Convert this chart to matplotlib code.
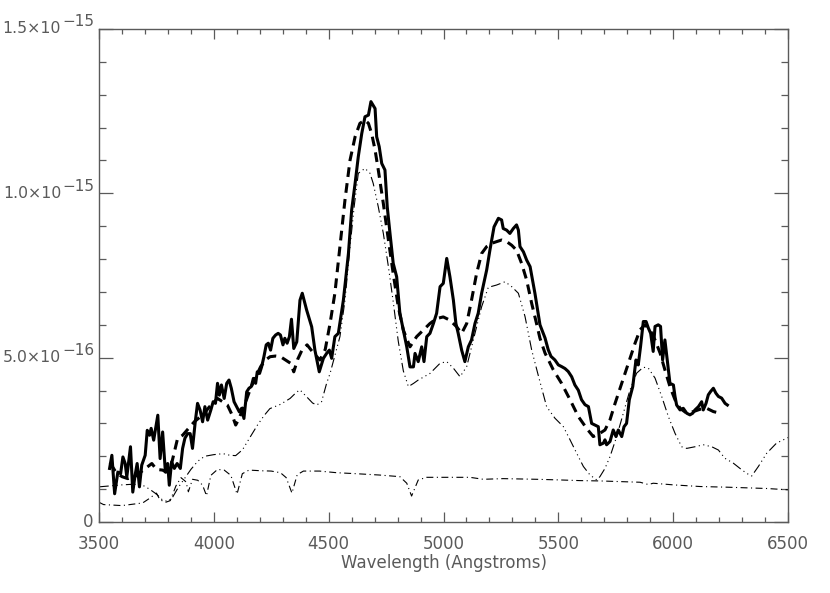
import numpy as np
import matplotlib
matplotlib.use('Agg')
import matplotlib.pyplot as plt
from matplotlib.ticker import MultipleLocator, FixedLocator, NullFormatter
from matplotlib.transforms import offset_copy

# Flusswerte in Einheiten von 1e-16

# beobachtetes Spektrum (durchgezogen)
wl_obs = [3546, 3556, 3568, 3582, 3594, 3604, 3614, 3621, 3637, 3647, 3657, 3666, 3676, 3686,
          3701, 3710, 3720, 3727, 3738, 3756, 3766, 3777, 3789, 3799, 3806, 3816, 3828, 3840,
          3854, 3864, 3874, 3886, 3897, 3907, 3919, 3929, 3940, 3951, 3961, 3973, 3987, 3997,
          4007, 4016, 4024, 4033, 4045, 4056, 4066, 4076, 4088, 4099, 4111, 4121, 4131, 4143,
          4153, 4163, 4172, 4182, 4189, 4199, 4208, 4218, 4228, 4237, 4247, 4257, 4269, 4280,
          4290, 4301, 4309, 4319, 4329, 4338, 4348, 4361, 4375, 4385, 4404, 4426, 4440, 4459,
          4477, 4491, 4503, 4513, 4527, 4542, 4564, 4586, 4600, 4615, 4629, 4644, 4658, 4673,
          4684, 4702, 4709, 4720, 4731, 4745, 4755, 4767, 4781, 4796, 4810, 4825, 4840, 4854,
          4869, 4876, 4890, 4905, 4915, 4927, 4941, 4956, 4970, 4985, 4999, 5014, 5028, 5043,
          5054, 5064, 5079, 5093, 5108, 5122, 5137, 5151, 5166, 5188, 5202, 5220, 5239, 5253,
          5260, 5275, 5289, 5304, 5318, 5326, 5333, 5348, 5362, 5377, 5398, 5420, 5442, 5456,
          5468, 5485, 5500, 5514, 5529, 5543, 5558, 5572, 5587, 5601, 5616, 5631, 5645, 5660,
          5674, 5681, 5696, 5703, 5710, 5725, 5739, 5751, 5761, 5776, 5786, 5797, 5809, 5824,
          5838, 5848, 5858, 5870, 5882, 5892, 5902, 5913, 5921, 5935, 5945, 5954, 5964, 5974,
          5986, 6001, 6008, 6015, 6030, 6044, 6059, 6073, 6085, 6095, 6110, 6124, 6131, 6143,
          6153, 6163, 6175, 6186, 6197, 6211, 6226, 6236]
fl_obs = [1.63, 2.03, 0.86, 1.52, 1.47, 1.98, 1.78, 1.37, 2.29, 0.91, 1.42, 1.78, 1.07, 1.73,
          2.03, 2.79, 2.64, 2.85, 2.49, 3.25, 1.93, 2.74, 1.52, 1.78, 1.12, 1.83, 1.63, 1.78,
          1.63, 2.24, 2.55, 2.69, 2.69, 2.24, 3.05, 3.61, 3.41, 3.05, 3.51, 3.10, 3.41, 3.66,
          3.61, 4.22, 3.86, 4.17, 3.76, 4.22, 4.32, 4.07, 3.66, 3.51, 3.35, 3.46, 3.15, 3.96,
          4.07, 4.12, 4.37, 4.22, 4.57, 4.52, 4.72, 5.03, 5.39, 5.44, 5.23, 5.59, 5.69, 5.74,
          5.69, 5.39, 5.59, 5.44, 5.64, 6.17, 5.28, 5.48, 6.75, 6.96, 6.45, 5.94, 5.23, 4.57,
          4.98, 5.13, 5.23, 4.98, 5.64, 5.74, 6.75, 8.17, 9.49, 10.30, 11.12, 11.82, 12.33, 12.38,
          12.79, 12.58, 11.72, 11.42, 10.91, 10.71, 9.59, 8.78, 7.87, 7.46, 6.35, 5.84, 5.33, 4.72,
          4.72, 5.13, 4.88, 5.33, 4.88, 5.64, 5.74, 6.04, 6.35, 7.16, 7.26, 8.02, 7.46, 6.75,
          6.04, 5.74, 5.23, 4.88, 5.33, 5.54, 6.04, 6.35, 6.96, 7.67, 8.27, 8.98, 9.24, 9.19,
          8.93, 8.88, 8.78, 8.93, 9.04, 8.88, 8.38, 8.22, 7.97, 7.77, 6.96, 6.00, 5.60, 5.24,
          5.04, 4.93, 4.78, 4.73, 4.67, 4.58, 4.42, 4.17, 4.01, 3.72, 3.57, 3.51, 3.00, 2.95,
          2.90, 2.35, 2.40, 2.50, 2.35, 2.45, 2.80, 2.60, 2.80, 2.60, 2.90, 3.00, 3.72, 4.12,
          4.93, 4.78, 5.34, 6.10, 6.10, 5.90, 5.74, 5.19, 5.95, 6.00, 5.95, 4.93, 5.54, 4.93,
          4.22, 4.17, 3.82, 3.56, 3.41, 3.46, 3.31, 3.26, 3.31, 3.41, 3.51, 3.66, 3.41, 3.61,
          3.87, 3.97, 4.07, 3.92, 3.82, 3.77, 3.61, 3.56]

# Modell gesamt (gestrichelt)
wl_mod = [3548, 3575, 3600, 3625, 3660, 3700, 3730, 3750, 3777, 3792, 3815, 3842, 3864, 3890,
          3915, 3958, 3980, 4016, 4038, 4059, 4080, 4095, 4110, 4124, 4139, 4160, 4185, 4204,
          4225, 4245, 4269, 4290, 4312, 4334, 4348, 4365, 4385, 4406, 4435, 4462, 4485, 4506,
          4527, 4549, 4571, 4593, 4615, 4636, 4658, 4673, 4687, 4702, 4716, 4738, 4760, 4781,
          4803, 4825, 4854, 4883, 4912, 4941, 4970, 4999, 5028, 5057, 5079, 5101, 5122, 5144,
          5166, 5188, 5210, 5231, 5253, 5275, 5297, 5318, 5340, 5362, 5384, 5405, 5420, 5442,
          5478, 5514, 5551, 5587, 5623, 5652, 5681, 5703, 5725, 5747, 5776, 5805, 5834, 5856,
          5877, 5899, 5921, 5943, 5964, 5986, 6008, 6030, 6059, 6088, 6117, 6146, 6175, 6204]
fl_mod = [1.80, 1.50, 1.38, 1.32, 1.40, 1.62, 1.78, 1.60, 1.58, 1.52, 1.75, 2.54, 2.64, 2.85,
          3.05, 3.30, 3.50, 3.76, 3.66, 3.56, 3.25, 2.95, 3.15, 3.40, 3.66, 4.07, 4.45, 4.73,
          4.93, 5.03, 5.05, 5.03, 4.93, 4.83, 4.57, 4.95, 5.25, 5.39, 5.13, 4.93, 5.25, 6.04,
          6.96, 8.38, 9.80, 11.01, 11.72, 12.13, 12.23, 12.13, 11.82, 11.32, 10.71, 9.69, 8.58, 7.56,
          6.55, 5.84, 5.33, 5.64, 5.84, 6.04, 6.19, 6.24, 6.14, 5.94, 5.74, 6.04, 6.75, 7.56,
          8.17, 8.38, 8.48, 8.53, 8.58, 8.53, 8.42, 8.27, 7.87, 7.36, 6.65, 6.04, 5.59, 5.14,
          4.63, 4.22, 3.72, 3.21, 2.85, 2.60, 2.70, 2.80, 3.11, 3.61, 4.22, 4.83, 5.44, 5.85,
          6.00, 5.85, 5.54, 5.14, 4.63, 4.12, 3.72, 3.46, 3.31, 3.36, 3.43, 3.46, 3.36, 3.31]

# Komponente 1 (Strich-Punkt-Punkt-Punkt)
wl_k1 = [3500, 3550, 3600, 3650, 3690, 3720, 3750, 3775, 3800, 3820, 3845, 3870, 3900, 3930,
         3960, 4000, 4040, 4070, 4095, 4125, 4155, 4190, 4220, 4244, 4290, 4332, 4360, 4375,
         4404, 4430, 4448, 4469, 4491, 4506, 4549, 4571, 4593, 4611, 4629, 4658, 4680, 4694,
         4716, 4738, 4760, 4781, 4803, 4825, 4847, 4870, 4890, 4941, 4985, 5014, 5043, 5072,
         5101, 5137, 5166, 5195, 5231, 5268, 5297, 5326, 5355, 5384, 5413, 5449, 5485, 5522,
         5551, 5580, 5609, 5638, 5667, 5681, 5703, 5725, 5754, 5783, 5812, 5841, 5870, 5892,
         5921, 5950, 5979, 6008, 6037, 6059, 6095, 6131, 6168, 6197, 6225, 6262, 6291, 6320,
         6342, 6371, 6407, 6450, 6500]
fl_k1 = [1.07, 1.10, 1.13, 1.15, 1.12, 1.00, 0.85, 0.68, 0.62, 0.75, 1.05, 1.30, 1.60, 1.85,
         2.00, 2.05, 2.08, 2.03, 2.02, 2.20, 2.55, 2.95, 3.25, 3.45, 3.58, 3.76, 3.95, 4.02,
         3.81, 3.62, 3.56, 3.66, 4.22, 4.52, 5.64, 6.75, 8.38, 9.60, 10.61, 10.76, 10.61, 10.30,
         9.59, 8.78, 7.77, 6.70, 5.50, 4.60, 4.12, 4.22, 4.32, 4.52, 4.83, 4.88, 4.68, 4.42,
         4.73, 5.74, 6.55, 7.14, 7.21, 7.31, 7.16, 6.96, 6.25, 5.23, 4.45, 3.51, 3.16, 2.90,
         2.50, 2.09, 1.69, 1.43, 1.28, 1.38, 1.63, 1.99, 2.60, 3.31, 4.02, 4.53, 4.71, 4.68,
         4.38, 3.82, 3.21, 2.70, 2.29, 2.24, 2.29, 2.35, 2.29, 2.19, 1.94, 1.79, 1.63, 1.48,
         1.40, 1.69, 2.09, 2.40, 2.57]

# Komponente 2 mit Balmer-Absorption (Strich-Punkt)
wl_k2 = [3500, 3520, 3600, 3690, 3720, 3750, 3765, 3790, 3810, 3835, 3857, 3879, 3889, 3907,
         3930, 3951, 3968, 3987, 4016, 4045, 4074, 4101, 4124, 4153, 4204, 4250, 4290, 4315,
         4340, 4363, 4390, 4460, 4535, 4620, 4720, 4810, 4840, 4861, 4890, 4927, 5000, 5115,
         5173, 5260, 5405, 5507, 5594, 5681, 5768, 5856, 5892, 5913, 6001, 6117, 6233, 6320,
         6407, 6500]
fl_k2 = [0.60, 0.53, 0.50, 0.58, 0.72, 0.88, 0.68, 0.60, 0.65, 1.10, 1.35, 1.22, 0.92, 1.30,
         1.27, 1.12, 0.80, 1.42, 1.60, 1.58, 1.42, 0.85, 1.47, 1.58, 1.56, 1.55, 1.50, 1.35,
         0.88, 1.44, 1.55, 1.55, 1.50, 1.47, 1.43, 1.38, 1.18, 0.79, 1.28, 1.36, 1.36, 1.36,
         1.30, 1.32, 1.30, 1.28, 1.26, 1.25, 1.23, 1.21, 1.14, 1.18, 1.13, 1.08, 1.06, 1.04,
         1.02, 0.98]

# y-Beschriftung im IDL-Stil: Mantisse und Exponent
y_ticks = [0, 5e-16, 1e-15, 1.5e-15]
y_mant = ['0', '5.0\u00d710', '1.0\u00d710', '1.5\u00d710']
y_exp = ['', '\u221216', '\u221215', '\u221215']

einheit = 1e-16
grau = '#5a5a5a'

plt.rcParams['lines.scale_dashes'] = False
fig = plt.figure(figsize=(8.3, 5.93), dpi=100)
ax = fig.add_axes([0.1193, 0.1197, 0.8301, 0.8314])

ax.plot(wl_obs, np.array(fl_obs)*einheit, 'k-', lw=2.2)
ax.plot(wl_mod, np.array(fl_mod)*einheit, 'k-', lw=2.2, dashes=(7, 4.5))
ax.plot(wl_k1, np.array(fl_k1)*einheit, 'k-', lw=0.8, dashes=(7, 2.5, 0.8, 2.5, 0.8, 2.5, 0.8, 2.5))
ax.plot(wl_k2, np.array(fl_k2)*einheit, 'k-', lw=0.8, dashes=(5, 2.5, 0.8, 2.5))

ax.set_xlim(3500, 6500)
ax.set_ylim(0, 1.5e-15)
ax.xaxis.set_major_locator(MultipleLocator(500))
ax.xaxis.set_minor_locator(MultipleLocator(100))
ax.yaxis.set_major_locator(FixedLocator(y_ticks))
ax.yaxis.set_major_formatter(NullFormatter())
ax.yaxis.set_minor_locator(MultipleLocator(1e-16))

ax.tick_params(which='both', direction='in', top=True, right=True, colors=grau,
               labelcolor=grau, labelsize=12, width=0.9)
ax.tick_params(axis='x', which='major', length=7, pad=9)
ax.tick_params(axis='x', which='minor', length=3.5)
ax.tick_params(axis='y', which='major', length=10)
ax.tick_params(axis='y', which='minor', length=5)
for s in ax.spines.values():
    s.set_color(grau)
    s.set_linewidth(1.0)

# Beschriftungen links der Achse
tr = ax.get_yaxis_transform()
tr_exp = offset_copy(tr, fig=fig, x=-5, y=7, units='dots')
tr_mant = offset_copy(tr, fig=fig, x=-38, y=0, units='dots')
for val, m, e in zip(y_ticks, y_mant, y_exp):
    if e == '':
        ax.text(0, val, m, transform=offset_copy(tr, fig=fig, x=-6, y=0, units='dots'),
                ha='right', va='center', fontsize=12, color=grau)
        continue
    ax.text(0, val, e, transform=tr_exp, ha='right', va='center', fontsize=11, color=grau)
    ax.text(0, val, m, transform=tr_mant, ha='right', va='center', fontsize=11.3, color=grau)

ax.set_xlabel('Wavelength (Angstroms)', fontsize=12, color=grau, labelpad=1)

plt.savefig('out.png', dpi=100)
